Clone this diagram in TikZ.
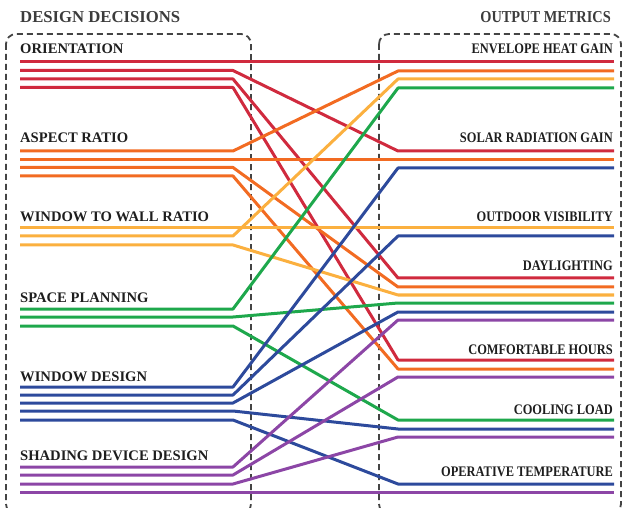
\documentclass[tikz,border=0pt]{standalone}
\usepackage{fontspec}
\setmainfont{Liberation Serif}
\newfontfamily\condfont[FakeStretch=0.85]{Liberation Serif}
\newfontfamily\titlecond[FakeStretch=0.86]{Liberation Serif}
\definecolor{cred}{HTML}{D02A3E}
\definecolor{corange}{HTML}{F26B22}
\definecolor{cyellow}{HTML}{FBB03F}
\definecolor{cgreen}{HTML}{1EA84C}
\definecolor{cblue}{HTML}{2D4A9C}
\definecolor{cpurple}{HTML}{8C46A6}
\definecolor{boxgray}{HTML}{444444}
\definecolor{titlegray}{HTML}{3C3C3C}
\definecolor{labelblack}{HTML}{1E1E1E}
\tikzset{
  flowline/.style={line width=3pt, line join=round},
  groupbox/.style={draw=boxgray, line width=1.8pt, dash pattern=on 6pt off 4pt, rounded corners=10pt},
  headtitle/.style={font=\fontsize{16.7}{18}\selectfont\bfseries, text=titlegray, inner sep=0pt},
  leftlabel/.style={font=\fontsize{14.6}{16}\selectfont\bfseries, text=labelblack, inner sep=0pt, anchor=base west},
  rightlabel/.style={font=\fontsize{14.6}{16}\selectfont\bfseries\condfont, text=labelblack, inner sep=0pt, anchor=base east}
}
\newcommand\flowpath[4]{%
  \coordinate (#2s) at (20,#3);
  \coordinate (#2a) at (233,#3);
  \coordinate (#2b) at (398,#4);
  \coordinate (#2e) at (614,#4);
  \draw[flowline,#1] (#2s) -- (#2a) -- (#2b) -- (#2e);
}
\begin{document}
\begin{tikzpicture}[x=1pt,y=-1pt]
\useasboundingbox (0,0) rectangle (622,508);
% group boxes
\draw[groupbox] (6,34) rectangle (251,514);
\draw[groupbox] (379,34) rectangle (621,514);
% titles
\node[headtitle, anchor=base west] (tdd) at (20,23) {DESIGN DECISIONS};
\node[headtitle, anchor=base east, font=\fontsize{16.7}{18}\selectfont\bfseries\titlecond] (tom) at (611,23) {OUTPUT METRICS};
% flows
\flowpath{cred}{r1}{62}{62}
\flowpath{cred}{r2}{70.5}{151}
\flowpath{cred}{r3}{79}{278}
\flowpath{cred}{r4}{87.5}{360}
\flowpath{corange}{o1}{151}{71}
\flowpath{corange}{o2}{159.5}{159.5}
\flowpath{corange}{o3}{167.5}{287}
\flowpath{corange}{o4}{176}{369}
\flowpath{cyellow}{y1}{228}{228}
\flowpath{cyellow}{y2}{236}{79}
\flowpath{cyellow}{y3}{245}{295}
\flowpath{cgreen}{g1}{309}{88}
\flowpath{cgreen}{g2}{317}{303}
\flowpath{cgreen}{g3}{326}{420}
\flowpath{cblue}{b1}{387}{168}
\flowpath{cblue}{b2}{395}{236}
\flowpath{cblue}{b3}{403}{312}
\flowpath{cblue}{b4}{411}{429}
\flowpath{cblue}{b5}{420}{484}
\flowpath{cpurple}{p1}{467}{320}
\flowpath{cpurple}{p2}{475}{377}
\flowpath{cpurple}{p3}{484}{437}
\flowpath{cpurple}{p4}{492}{492}
% left labels
\node[leftlabel] (lor) at (20,54) {ORIENTATION};
\node[leftlabel] (lar) at (20,143) {ASPECT RATIO};
\node[leftlabel] (lww) at (20,222) {WINDOW TO WALL RATIO};
\node[leftlabel] (lsp) at (20,302) {SPACE PLANNING};
\node[leftlabel] (lwd) at (20,381) {WINDOW DESIGN};
\node[leftlabel] (lsd) at (20,460) {SHADING DEVICE DESIGN};
% right labels
\node[rightlabel] (reh) at (613,54) {ENVELOPE HEAT GAIN};
\node[rightlabel] (rsr) at (613,143) {SOLAR RADIATION GAIN};
\node[rightlabel] (rov) at (613,222) {OUTDOOR VISIBILITY};
\node[rightlabel] (rdl) at (613,270) {DAYLIGHTING};
\node[rightlabel] (rch) at (613,354) {COMFORTABLE HOURS};
\node[rightlabel] (rcl) at (613,414) {COOLING LOAD};
\node[rightlabel] (rot) at (613,476) {OPERATIVE TEMPERATURE};
\end{tikzpicture}
\end{document}
